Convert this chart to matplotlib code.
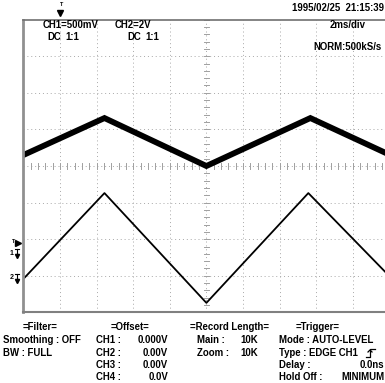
import numpy as np
import matplotlib
matplotlib.use("Agg")
import matplotlib.pyplot as plt
from matplotlib.lines import Line2D

plt.rcParams["font.family"] = ["Liberation Sans", "DejaVu Sans"]
plt.rcParams["font.weight"] = "bold"

# waveform vertices, time in ms relative to screen centre
ch1_t = [-10.0, -5.57, 0.0, 5.68, 10.0]
ch1_v = [1.34, 1.845, 1.19, 1.845, 1.345]
ch2_t = [-10.0, -5.57, 0.0, 5.57, 10.0]
ch2_v = [-0.05, 4.64, -1.36, 4.64, 0.10]

# volts/div and ground position (div from centre) for each channel
ch1_scale, ch1_gnd = 0.5, -2.38
ch2_scale, ch2_gnd = 2.0, -3.06
trig_level_div = -2.13
trig_pos_ms = -8.0

filter_rows = ["Smoothing : OFF", "BW : FULL"]
offset_names = ["CH1 :", "CH2 :", "CH3 :", "CH4 :"]
offset_vals = ["0.000V", "0.00V", "0.00V", "0.0V"]
record_names = ["Main :", "Zoom :"]
record_vals = ["10K", "10K"]
trigger_rows = ["Mode : AUTO-LEVEL", "Type : EDGE CH1", "Delay :", "Hold Off :"]
trigger_vals = ["", "", "0.0ns", "MINIMUM"]

W, H = 385, 383
fig = plt.figure(figsize=(W / 100, H / 100), dpi=100)


def fx(x):
    return x / W


def fy(y):
    return 1 - y / H


div = 36.6
left, top = 23.4, 166 - 4 * div
ax = fig.add_axes([fx(left), fy(top + 8 * div), 10 * div / W, 8 * div / H])
ax.set_xlim(-10, 10)
ax.set_ylim(-4, 4)
ax.set_xticks([])
ax.set_yticks([])
ax.spines["right"].set_visible(False)
ax.spines["left"].set_color("#909090")
ax.spines["left"].set_linewidth(2.0)
ax.spines["bottom"].set_color("#808080")
ax.spines["bottom"].set_linewidth(1.5)
ax.spines["top"].set_color("#707070")
ax.spines["top"].set_linewidth(1.2)

grid_kw = dict(color="#a8a8a8", lw=0.7, ls=(0, (1, 3)))
for gx in np.arange(-8, 10, 2):
    ax.axvline(gx, **grid_kw)
for gy in np.arange(-3, 4, 1):
    ax.axhline(gy, **grid_kw)

# minor ticks on the centre axes
for m in np.arange(-10, 10.01, 0.4):
    ax.plot([m, m], [-0.07, 0.07], color="#a0a0a0", lw=0.7)
for m in np.arange(-4, 4.01, 0.2):
    ax.plot([-0.14, 0.14], [m, m], color="#a0a0a0", lw=0.7)

ch1_div = np.array(ch1_v) / ch1_scale + ch1_gnd
ch2_div = np.array(ch2_v) / ch2_scale + ch2_gnd
ax.plot(ch1_t, ch1_div, color="black", lw=4.2, solid_joinstyle="miter")
ax.plot(ch2_t, ch2_div, color="black", lw=1.3)


def px(x):
    # horizontal pixel position to axes fraction
    return (x - left) / (10 * div)


# channel ground and trigger level markers on the left edge
mk = dict(transform=ax.get_yaxis_transform(), clip_on=False)
ax.plot(px(18), trig_level_div + 0.02, marker=">", ms=4, color="black", **mk)
ax.text(px(13.5), trig_level_div + 0.08, "T", fontsize=4, ha="center", va="center", **mk)
for n, g in (("1", ch1_gnd), ("2", ch2_gnd)):
    ax.text(px(12), g, n, fontsize=5, ha="center", va="center", **mk)
    ax.plot([px(15), px(19)], [g + 0.12, g + 0.12], color="black", lw=0.8, **mk)
    ax.plot([px(16.5), px(16.5)], [g + 0.12, g - 0.02], color="black", lw=0.8, **mk)
    ax.plot(px(16.5), g - 0.07, marker="v", ms=3, color="black", **mk)

# trigger position marker above the frame
tx = ax.get_xaxis_transform()
ax.plot(trig_pos_ms, 1.022, marker="v", ms=4, color="black", transform=tx, clip_on=False)
ax.text(trig_pos_ms + 0.1, 1.05, "T", fontsize=4, ha="center", va="center", transform=tx, clip_on=False)

fs = 6.9
fig.text(fx(43), fy(25), "CH1=500mV", fontsize=fs, ha="left", va="center")
fig.text(fx(115), fy(25), "CH2=2V", fontsize=fs, ha="left", va="center")
for x0 in (47, 127):
    fig.text(fx(x0), fy(37), "DC", fontsize=fs, ha="left", va="center")
    fig.text(fx(x0 + 18), fy(37), "1:1", fontsize=fs, ha="left", va="center")
fig.text(fx(384), fy(8), "1995/02/25  21:15:39", fontsize=fs, ha="right", va="center")
fig.text(fx(330), fy(25), "2ms/div", fontsize=fs, ha="left", va="center")
fig.text(fx(313), fy(47), "NORM:500kS/s", fontsize=fs, ha="left", va="center")

head_y = 327
row_y = [340, 353, 365, 377]
fig.text(fx(40), fy(head_y), "=Filter=", fontsize=fs, ha="center", va="center")
for s, y in zip(filter_rows, row_y):
    fig.text(fx(3), fy(y), s, fontsize=fs, ha="left", va="center")

fig.text(fx(130), fy(head_y), "=Offset=", fontsize=fs, ha="center", va="center")
for n, v, y in zip(offset_names, offset_vals, row_y):
    fig.text(fx(96), fy(y), n, fontsize=fs, ha="left", va="center")
    fig.text(fx(168), fy(y), v, fontsize=fs, ha="right", va="center")

fig.text(fx(190), fy(head_y), "=Record Length=", fontsize=fs, ha="left", va="center")
for n, v, y in zip(record_names, record_vals, row_y):
    fig.text(fx(197), fy(y), n, fontsize=fs, ha="left", va="center")
    fig.text(fx(258), fy(y), v, fontsize=fs, ha="right", va="center")

fig.text(fx(318), fy(head_y), "=Trigger=", fontsize=fs, ha="center", va="center")
for n, v, y in zip(trigger_rows, trigger_vals, row_y):
    fig.text(fx(279), fy(y), n, fontsize=fs, ha="left", va="center")
    if v:
        fig.text(fx(384), fy(y), v, fontsize=fs, ha="right", va="center")

# rising edge glyph after the trigger type
ex = [fx(366), fx(370), fx(370), fx(375)]
ey = [fy(357), fy(357), fy(349), fy(349)]
fig.add_artist(Line2D(ex, ey, color="black", lw=0.9))
fig.add_artist(Line2D([fx(368), fx(370), fx(372)], [fy(352), fy(350), fy(352)], color="black", lw=0.9))

fig.savefig("out.png", dpi=100)
